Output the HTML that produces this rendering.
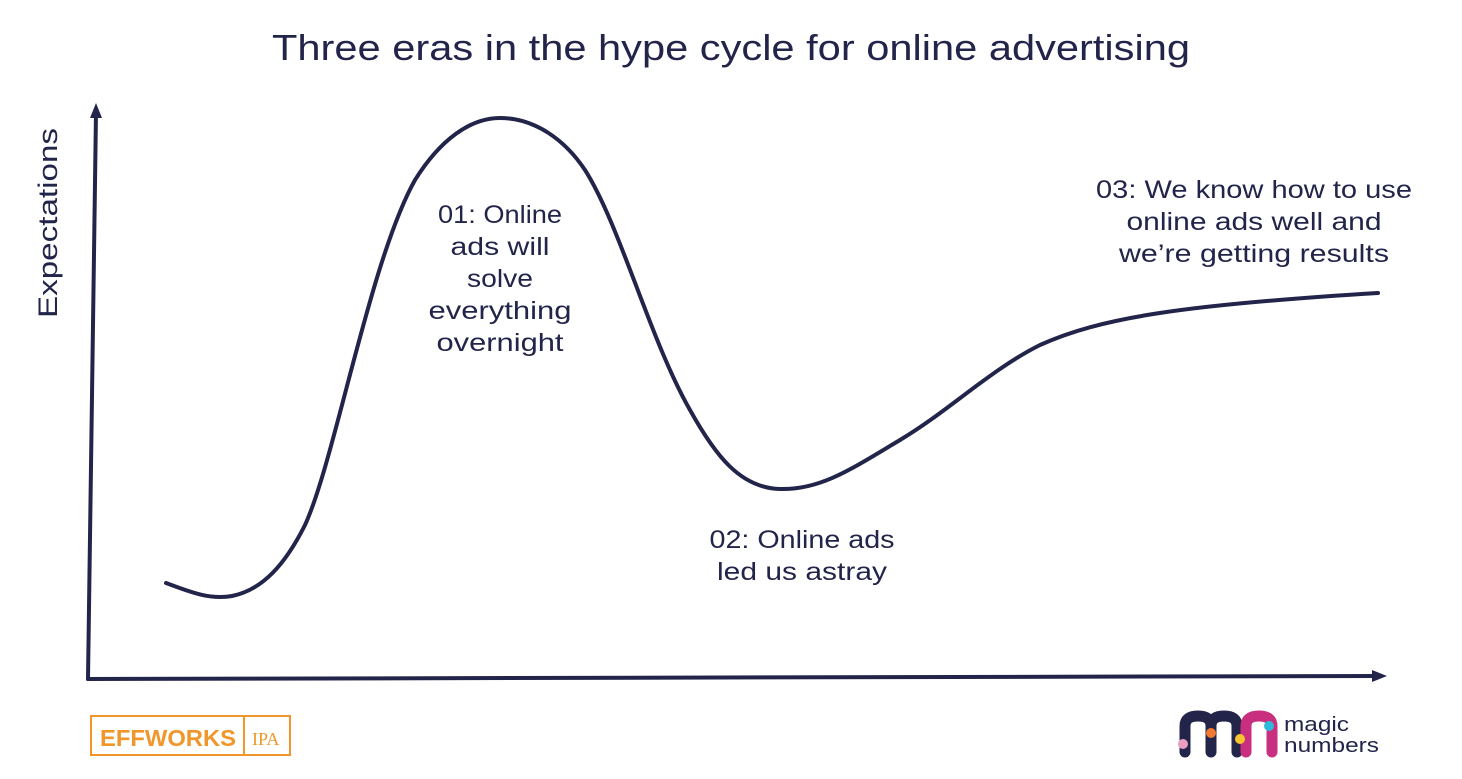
<!DOCTYPE html>
<html><head><meta charset="utf-8"><style>
html,body{margin:0;padding:0;background:#fff;}
body{width:1462px;height:774px;overflow:hidden;}
</style></head><body>
<svg width="1462" height="774" viewBox="0 0 1462 774" xmlns="http://www.w3.org/2000/svg" font-family="Liberation Sans, sans-serif" fill="#22244a">
<text x="731" y="60" text-anchor="middle" font-size="36" textLength="918" lengthAdjust="spacingAndGlyphs">Three eras in the hype cycle for online advertising</text>
<g stroke="#22244a" stroke-width="4" fill="none" stroke-linecap="round">
<line x1="88" y1="679" x2="96" y2="112"/>
<line x1="88" y1="679" x2="1376" y2="676"/>
<path d="M166,583 C190,592 210,600 232,596 C262,590 285,565 305,525 C335,460 370,260 415,180 C440,140 470,118 500,118 C535,118 565,140 585,170 C620,225 650,340 690,410 C715,455 740,488 780,489 C820,490 850,470 900,440 C950,410 990,370 1040,345 C1100,318 1180,305 1378,293"/>
</g>
<polygon points="96,103 90,118 102,118"/>
<polygon points="1387,676 1372,670 1372,682"/>
<text transform="translate(57,223) rotate(-90)" text-anchor="middle" font-size="27" textLength="190" lengthAdjust="spacingAndGlyphs">Expectations</text>
<g font-size="25" text-anchor="middle" lengthAdjust="spacingAndGlyphs">
<text x="500" y="223" textLength="124" lengthAdjust="spacingAndGlyphs">01: Online</text>
<text x="500" y="255" textLength="99" lengthAdjust="spacingAndGlyphs">ads will</text>
<text x="500" y="287" textLength="66" lengthAdjust="spacingAndGlyphs">solve</text>
<text x="500" y="319" textLength="143" lengthAdjust="spacingAndGlyphs">everything</text>
<text x="500" y="351" textLength="127" lengthAdjust="spacingAndGlyphs">overnight</text>
<text x="802" y="548" textLength="185" lengthAdjust="spacingAndGlyphs">02: Online ads</text>
<text x="802" y="580" textLength="170" lengthAdjust="spacingAndGlyphs">led us astray</text>
<text x="1254" y="198" textLength="316" lengthAdjust="spacingAndGlyphs">03: We know how to use</text>
<text x="1254" y="230" textLength="255" lengthAdjust="spacingAndGlyphs">online ads well and</text>
<text x="1254" y="262" textLength="270" lengthAdjust="spacingAndGlyphs">we’re getting results</text>
</g>
<g stroke="#f0962a" stroke-width="2" fill="none">
<rect x="91" y="716" width="199" height="39"/>
<line x1="244" y1="716" x2="244" y2="755"/>
</g>
<text x="100" y="746" font-size="23" font-weight="bold" fill="#f0962a" textLength="136" lengthAdjust="spacingAndGlyphs">EFFWORKS</text>
<text x="252" y="745" font-size="18" font-family="Liberation Serif, serif" fill="#f0962a">IPA</text>
<g stroke-linecap="round" fill="none" stroke-width="11">
<path d="M1185,752 V726 Q1185,716 1198,716 Q1211,716 1211,726 V752 M1211,726 Q1211,716 1224,716 Q1237,716 1237,726 V752" stroke="#22244a"/>
<path d="M1246,752 V726 Q1246,716 1259,716 Q1272,716 1272,726 V752" stroke="#c8307f"/>
</g>
<circle cx="1183" cy="744" r="5" fill="#e8a0c0"/>
<circle cx="1211" cy="733" r="5" fill="#f07a30"/>
<circle cx="1240" cy="739" r="5" fill="#f5c430"/>
<circle cx="1269" cy="726" r="5" fill="#30b8d8"/>
<text x="1284" y="731" font-size="20" textLength="65" lengthAdjust="spacingAndGlyphs">magic</text>
<text x="1284" y="752" font-size="20" textLength="95" lengthAdjust="spacingAndGlyphs">numbers</text>
</svg>
</body></html>
